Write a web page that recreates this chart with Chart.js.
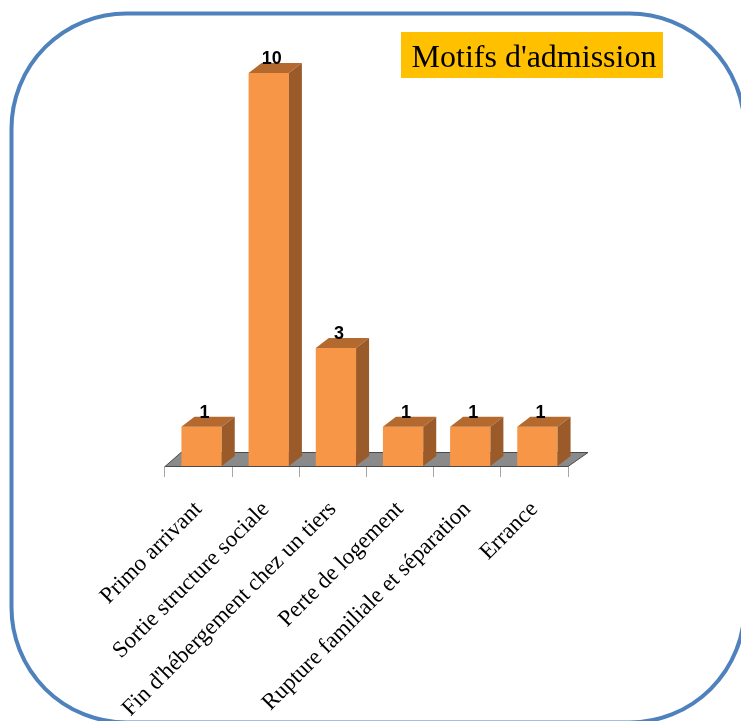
<!DOCTYPE html>
<html>
<head>
<meta charset="utf-8">
<title>Motifs d'admission</title>
<script src="https://cdn.jsdelivr.net/npm/chart.js@4/dist/chart.umd.min.js"></script>
<style>
  html, body { margin: 0; padding: 0; background: #fff; overflow: hidden; }
  canvas { display: block; }
</style>
</head>
<body>
<canvas id="barChart" width="741" height="721"></canvas>
<script>
const titre = "Motifs d'admission";
const motifs = [
  'Primo arrivant',
  'Sortie structure sociale',
  "Fin d'hébergement chez un tiers",
  'Perte de logement',
  'Rupture familiale et séparation',
  'Errance'
];
const nombres = [1, 10, 3, 1, 1, 1];

// profondeur de l'effet 3D
const prof = { dx: 13, dy: 10 };
const decalage = 3; // les barres sont un peu à droite du centre de la catégorie

// cadre bleu arrondi + titre dans un encadré jaune
const decor = {
  id: 'decor',
  beforeDraw(chart) {
    const ctx = chart.ctx;
    ctx.save();
    ctx.fillStyle = '#ffffff';
    ctx.fillRect(0, 0, chart.width, chart.height);
    ctx.restore();
  },
  afterDraw(chart) {
    const ctx = chart.ctx;
    ctx.save();
    ctx.strokeStyle = '#4f81bd';
    ctx.lineWidth = 4;
    ctx.beginPath();
    ctx.roundRect(11.5, 13.5, 733, 709, 115);
    ctx.stroke();

    ctx.fillStyle = '#ffc000';
    ctx.fillRect(401, 32, 262, 46);
    ctx.fillStyle = '#000';
    ctx.font = '32px "Liberation Serif"';
    ctx.textAlign = 'center';
    ctx.textBaseline = 'alphabetic';
    ctx.fillText(titre, 534, 67);
    ctx.restore();
  }
};

// sol gris + faces de côté et du dessus des barres + étiquettes
const barres3d = {
  id: 'barres3d',
  beforeDatasetsDraw(chart) {
    const ctx = chart.ctx;
    const a = chart.chartArea;
    ctx.save();
    ctx.fillStyle = '#8a8a8a';
    ctx.strokeStyle = '#4a4a4a';
    ctx.lineWidth = 1;
    ctx.beginPath();
    ctx.moveTo(a.left, a.bottom + 0.5);
    ctx.lineTo(a.left + 16, a.bottom - 13.5);
    ctx.lineTo(a.right + 20, a.bottom - 13.5);
    ctx.lineTo(a.right, a.bottom + 0.5);
    ctx.closePath();
    ctx.fill();
    ctx.stroke();
    ctx.restore();
    // les barres sont dessinées avec ce décalage
    ctx.save();
    ctx.translate(decalage, 0);
  },
  afterDatasetsDraw(chart) {
    const ctx = chart.ctx;
    const meta = chart.getDatasetMeta(0);
    meta.data.forEach((bar, i) => {
      const p = bar.getProps(['x', 'y', 'base', 'width'], true);
      const xl = p.x - p.width / 2;
      const xr = p.x + p.width / 2;
      // dessus
      ctx.fillStyle = '#b4692f';
      ctx.beginPath();
      ctx.moveTo(xl, p.y);
      ctx.lineTo(xl + prof.dx, p.y - prof.dy);
      ctx.lineTo(xr + prof.dx, p.y - prof.dy);
      ctx.lineTo(xr, p.y);
      ctx.closePath();
      ctx.fill();
      // côté
      ctx.fillStyle = '#9b5a29';
      ctx.beginPath();
      ctx.moveTo(xr, p.y);
      ctx.lineTo(xr + prof.dx, p.y - prof.dy);
      ctx.lineTo(xr + prof.dx, p.base - prof.dy);
      ctx.lineTo(xr, p.base);
      ctx.closePath();
      ctx.fill();
      // valeur
      ctx.fillStyle = '#000';
      ctx.font = 'bold 18px "Liberation Sans"';
      ctx.textAlign = 'center';
      ctx.textBaseline = 'alphabetic';
      ctx.fillText(nombres[i], p.x + 3, p.y - prof.dy + 1);
    });
    ctx.restore();
  }
};

const ctx = document.getElementById('barChart').getContext('2d');
new Chart(ctx, {
  type: 'bar',
  data: {
    labels: motifs,
    datasets: [{
      data: nombres,
      backgroundColor: '#f79646',
      borderWidth: 0,
      barPercentage: 1,
      categoryPercentage: 0.6
    }]
  },
  options: {
    responsive: false,
    animation: false,
    layout: {
      padding: { left: 165, right: 173, top: 73, bottom: 0 }
    },
    plugins: {
      legend: { display: false },
      tooltip: { enabled: false }
    },
    scales: {
      x: {
        afterFit: (scale) => { scale.height = 255; },
        border: { display: false },
        grid: {
          offset: true,
          drawOnChartArea: false,
          drawTicks: true,
          tickLength: 11,
          color: '#a6a6a6'
        },
        ticks: {
          autoSkip: false,
          minRotation: 45,
          maxRotation: 45,
          padding: 19,
          color: '#000',
          font: { family: '"Liberation Serif"', size: 23 }
        }
      },
      y: {
        display: false,
        min: 0,
        max: 10
      }
    }
  },
  plugins: [decor, barres3d]
});
</script>
</body>
</html>
